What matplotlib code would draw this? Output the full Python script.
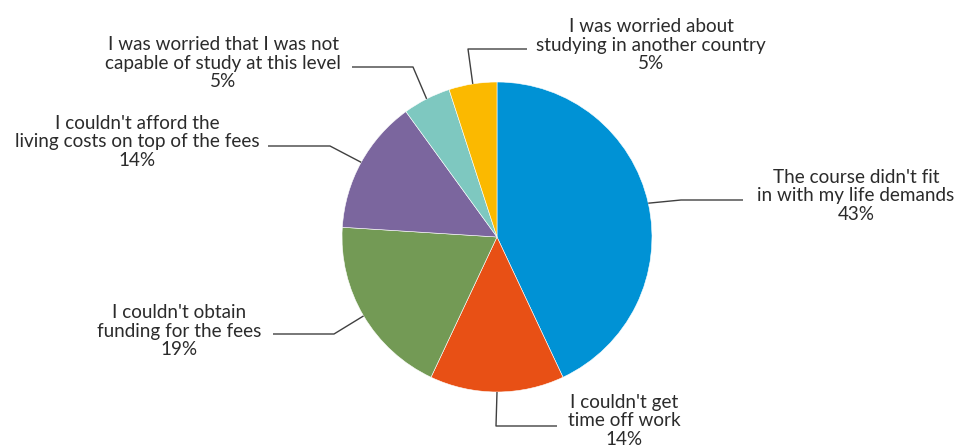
import numpy as np
import matplotlib.pyplot as plt

# Reasons for not taking up the course
labels = ["The course didn't fit\nin with my life demands",
          "I couldn't get\ntime off work",
          "I couldn't obtain\nfunding for the fees",
          "I couldn't afford the\nliving costs on top of the fees",
          "I was worried that I was not\ncapable of study at this level",
          "I was worried about\nstudying in another country"]
values = [43, 14, 19, 14, 5, 5]
colors = ['#0092D5', '#E85015', '#739A55', '#7B669E', '#7EC8C0', '#FBB900']

# leader-line layout in pixel space (elbow, end of horizontal, text centre)
elbows = [(681, 200), (496, 426), (334, 334), (330, 146), (413, 67), (468, 49)]
ends = [(743, 200), (557, 426), (273, 334), (268, 146), (352, 67), (527, 49)]
text_pos = [(856, 196), (624, 421), (179, 331), (137, 142), (223, 63), (651, 45)]

W, H = 963, 445
fig = plt.figure(figsize=(W / 100, H / 100), dpi=100)
ax = fig.add_axes([0, 0, 1, 1])
ax.axis('off')

cx, cy, r = 497, H - 237, 155
wedges, _ = ax.pie(values, colors=colors, startangle=90, counterclock=False,
                   center=(cx, cy), radius=r,
                   wedgeprops=dict(edgecolor='white', linewidth=0.4))
ax.set_xlim(0, W)
ax.set_ylim(0, H)
ax.set_aspect('equal')

for w, lab, v, el, en, tp in zip(wedges, labels, values, elbows, ends, text_pos):
    ang = np.deg2rad((w.theta1 + w.theta2) / 2)
    ax_pt = (cx + r * np.cos(ang), cy + r * np.sin(ang))
    xs = [ax_pt[0], el[0], en[0]]
    ys = [ax_pt[1], H - el[1], H - en[1]]
    ax.plot(xs, ys, color='#404040', lw=1, solid_capstyle='butt')
    ax.text(tp[0], H - tp[1], f"{lab}\n{v}%", ha='center', va='center',
            fontsize=13.6, family='Lato', color='#2b2b2b', linespacing=1.12)

fig.savefig('out.png', dpi=100)
